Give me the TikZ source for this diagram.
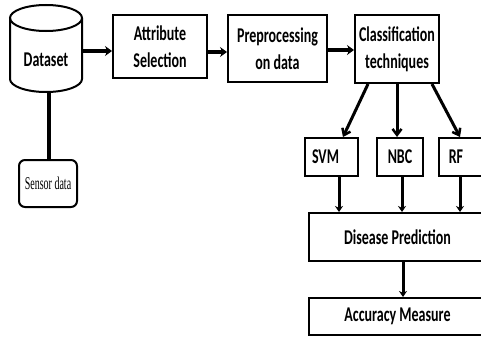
\documentclass[tikz,border=0pt]{standalone}
\usepackage{fontspec}
\setmainfont{Carlito}
\newfontfamily\sensorfont{Liberation Serif}
\usetikzlibrary{arrows.meta}
\newcommand\tall[1]{\scalebox{1}[1.5]{#1}}
\newcommand\talls[1]{\scalebox{1}[1.8]{#1}}
\begin{document}
\begin{tikzpicture}[x=1pt,y=1pt,
  box/.style={draw, line width=2pt, inner sep=0pt, align=center,
    font=\bfseries\fontsize{14}{27}\selectfont},
  thickconn/.style={line width=4pt},
  toparr/.style={line width=4pt, -{Stealth[length=7pt,width=10pt]}},
  arr/.style={line width=3pt, -{Stealth[length=6pt,width=8pt]}},
  branch/.style={line width=3pt, -{Straight Barb[length=6pt,width=9pt,line width=2.5pt]}},
]
\useasboundingbox (0,0) rectangle (481,-348);
\clip (0,0) rectangle (481,-348);

% Dataset cylinder
\draw[line width=2pt, fill=white] (10,-18) -- (10,-79)
  arc[start angle=180,end angle=360,x radius=36,y radius=13] -- (82,-18);
\draw[line width=2pt] (46,-18) ellipse[x radius=36,y radius=13];
\node[inner sep=0pt, minimum width=72, minimum height=64,
  font=\bfseries\fontsize{14}{27}\selectfont] (dataset) at (46,-60) {\tall{Dataset}};

% Top row
\node[box, minimum width=94, minimum height=63] (attr) at (160,-46.5)
  {\tall{Attribute}\\\tall{Selection}};
\node[box, minimum width=99, minimum height=67] (pre) at (277.5,-48.5)
  {\tall{Preprocessing}\\\tall{on data}};
\node[box, minimum width=84, minimum height=68] (cls) at (397,-49)
  {\tall{Classification}\\\tall{techniques}};

% Sensor data
\node[draw, line width=2pt, rounded corners=6pt, minimum width=58, minimum height=47,
  inner sep=0pt, font=\sensorfont\fontsize{10}{12}\selectfont] (sensor) at (48,-183.5)
  {\raisebox{-5pt}{\talls{Sensor data}}};

% Classifiers
\node[box, minimum width=53, minimum height=38] (svm) at (331.5,-157) {\hspace*{-12pt}\tall{SVM}};
\node[box, minimum width=46, minimum height=38] (nbc) at (400,-157) {\tall{NBC}};
\node[box, minimum width=46, minimum height=38] (rf) at (462,-157) {\hspace*{-12pt}\tall{RF}};

% Lower boxes
\node[box, minimum width=177, minimum height=48] (dis) at (397.5,-237) {\tall{Disease Prediction}};
\node[box, minimum width=177, minimum height=37] (acc) at (397.5,-316.5) {\raisebox{-3pt}{\tall{Accuracy Measure}}};

% Connectors
\draw[toparr] ([yshift=9pt]dataset.east) -- ([yshift=-4.5pt]attr.west);
\draw[toparr] ([yshift=-5.5pt]attr.east) -- ([yshift=-3.5pt]pre.west);
\draw[toparr] ([yshift=-1.5pt]pre.east) -- ([yshift=-1pt]cls.west);
\draw[thickconn] ([xshift=3pt]dataset.south) -- ([xshift=1pt]sensor.north);

\draw[branch] ([xshift=-29pt]cls.south) -- ([xshift=11.5pt]svm.north);
\draw[branch] (cls.south) -- (cls.south |- nbc.north);
\draw[branch] ([xshift=35pt]cls.south) -- ([xshift=-2pt]rf.north);

\draw[arr] ([xshift=7.5pt]svm.south) -- ([xshift=7.5pt]svm.south |- dis.north);
\draw[arr] ([xshift=2pt]nbc.south) -- ([xshift=2pt]nbc.south |- dis.north);
\draw[arr] ([xshift=-2pt]rf.south) -- ([xshift=-2pt]rf.south |- dis.north);
\draw[arr] ([xshift=5.5pt]dis.south) -- ([xshift=5.5pt]dis.south |- acc.north);
\end{tikzpicture}
\end{document}
